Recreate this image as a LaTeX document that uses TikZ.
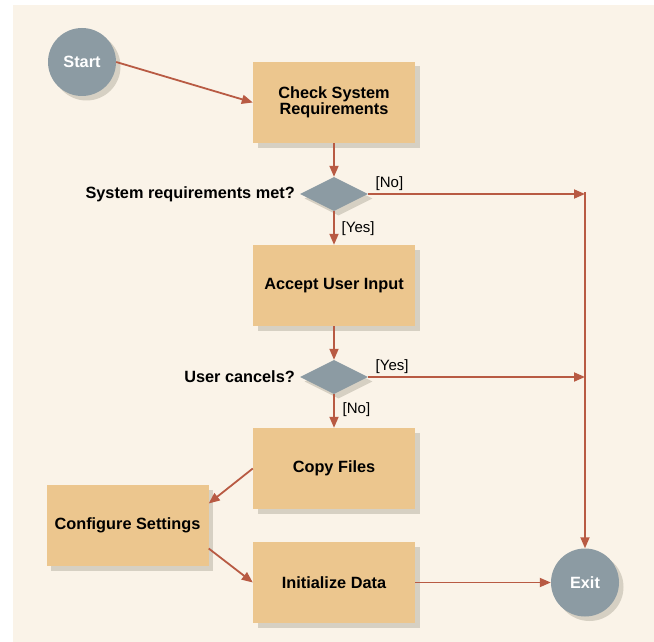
\documentclass[tikz,border=0pt]{standalone}
\usepackage{fontspec}
\setmainfont{Liberation Sans}
\usetikzlibrary{shapes.geometric,arrows.meta,shadows}
\definecolor{bgc}{HTML}{FAF3E8}
\definecolor{boxc}{HTML}{ECC68E}
\definecolor{shad}{HTML}{D6D0C3}
\definecolor{greyc}{HTML}{8C9BA3}
\definecolor{arr}{HTML}{B85A43}
\begin{document}
\begin{tikzpicture}[x=1pt,y=-1pt,
  shd/.style={drop shadow={shadow xshift=4.5pt, shadow yshift=-4.5pt, fill=shad, opacity=1}},
  boxn/.style={rectangle, fill=boxc, minimum width=162pt, minimum height=81pt, inner sep=0pt, align=center, font=\fontsize{16.3}{16.5}\selectfont\bfseries, shd},
  termn/.style={circle, fill=greyc, minimum size=68pt, inner sep=0pt, text=white, font=\fontsize{16.3}{16.5}\selectfont\bfseries, shd},
  decn/.style={diamond, aspect=2, fill=greyc, minimum width=68pt, minimum height=34pt, inner sep=0pt, shd},
  qlab/.style={anchor=base east, inner sep=0pt, font=\fontsize{16.3}{16.5}\selectfont\bfseries},
  blab/.style={anchor=base west, inner sep=0pt, font=\fontsize{15}{15}\selectfont},
  flow/.style={draw=arr, line width=1.8pt, -{Triangle[length=11pt,width=9pt]}}
]
\useasboundingbox (0,0) rectangle (654,642);
\fill[bgc] (12.5,5) rectangle (654,642);

\node[termn] (start) at (82,62) {Start};
\node[boxn] (check) at (334,102.5) {Check System\\Requirements};
\node[decn] (d1) at (334,194) {};
\node[qlab] (q1) at (295,198) {System requirements met?};
\node[boxn] (accept) at (334,285.5) {Accept User Input};
\node[decn] (d2) at (334,377) {};
\node[qlab] (q2) at (295,382) {User cancels?};
\node[boxn] (copy) at (334,468.5) {Copy Files};
\node[boxn] (config) at (127.5,525.5) {Configure Settings};
\node[boxn] (init) at (334,582.5) {Initialize Data};
\node[termn] (exit) at (585,582.5) {Exit};

\node[blab] (l1) at (375.5,187) {[No]};
\node[blab] (l2) at (341.5,232) {[Yes]};
\node[blab] (l3) at (375.5,370) {[Yes]};
\node[blab] (l4) at (342.5,413) {[No]};

\coordinate (vtop) at (585,192);
\coordinate (v1) at (585,194);
\coordinate (v2) at (585,377);

\draw[flow] (start.east) -- (check.west);
\draw[flow] (check.south) -- (d1.north);
\draw[flow] (d1.south) -- (accept.north);
\draw[flow] (d1.east) -- (v1);
\draw[flow] (accept.south) -- (d2.north);
\draw[flow] (d2.south) -- (copy.north);
\draw[flow] (d2.east) -- (v2);
\draw[flow] (vtop) -- (exit.north);
\draw[flow] (copy.west) -- ([yshift=22pt]config.east);
\draw[flow] ([yshift=-23pt]config.east) -- (init.west);
\draw[flow] (init.east) -- (exit.west);
\end{tikzpicture}
\end{document}
